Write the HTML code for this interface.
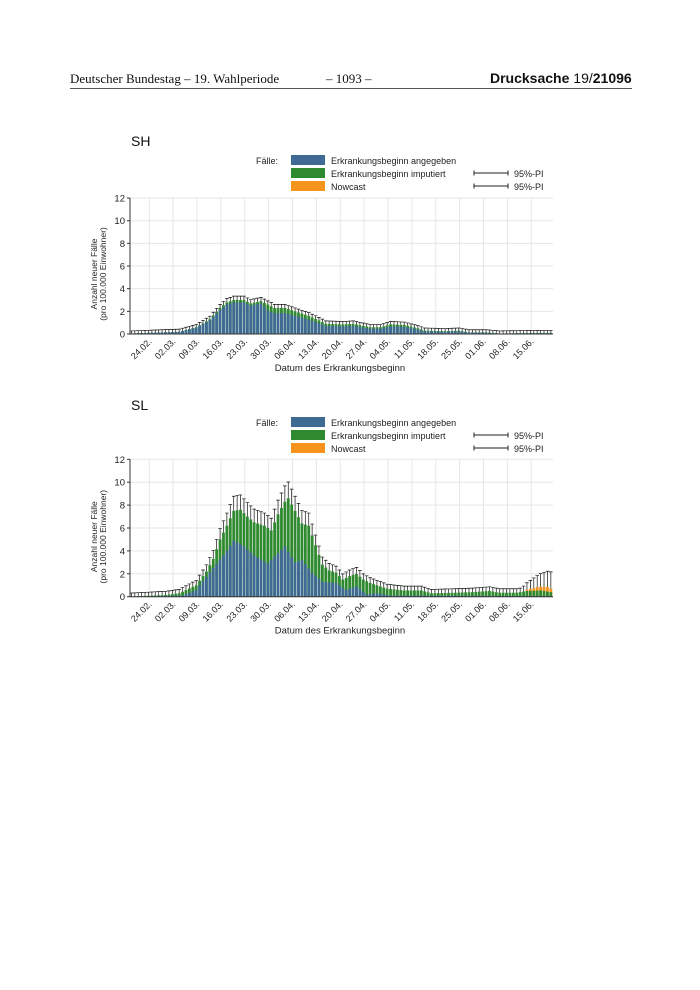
<!DOCTYPE html>
<html><head><meta charset="utf-8"><style>
body{margin:0;background:#fff;}
#w{position:relative;width:700px;height:990px;overflow:hidden;background:#fff;}
.h{position:absolute;top:71px;font-family:"Liberation Serif",serif;font-size:13px;color:#111;white-space:nowrap;}
</style></head><body><div id="w">
<div class="h" style="left:70px">Deutscher Bundestag – 19. Wahlperiode</div>
<div class="h" style="left:326px">– 1093 –</div>
<div class="h" style="left:490px;font-family:'Liberation Sans',sans-serif;font-size:14px;top:70px"><b>Drucksache</b> 19/<b>21096</b></div>
<div style="position:absolute;left:70px;top:88px;width:562px;height:1px;background:#555"></div>
<svg id="s" width="700" height="990" style="position:absolute;left:0;top:0" font-family="Liberation Sans, sans-serif"></svg>
</div>
<script>
var S=document.getElementById('s'),out='';
function interp(p,d){for(var i=0;i<p.length-1;i++){if(d>=p[i][0]&&d<=p[i+1][0]){var t=(d-p[i][0])/(p[i+1][0]-p[i][0]);return p[i][1]+t*(p[i+1][1]-p[i][1]);}}return p[p.length-1][1];}
var x0=130,dpx=3.41,N=124;
var dates=['24.02.','02.03.','09.03.','16.03.','23.03.','30.03.','06.04.','13.04.','20.04.','27.04.','04.05.','11.05.','18.05.','25.05.','01.06.','08.06.','15.06.'];
function chart(y0,ppu,title,ty,leg,tot,blue,orange,errf){
 var ys=function(v){return y0-v*ppu;};
 out+='<text x="131" y="'+ty+'" font-size="14" fill="#111">'+title+'</text>';
 out+='<text x="256" y="'+(leg+4)+'" font-size="9" fill="#222">Fälle:</text>';
 var cols=['#3f6a94','#2f8a2f','#f7941d'],labs=['Erkrankungsbeginn angegeben','Erkrankungsbeginn imputiert','Nowcast'];
 for(var i=0;i<3;i++){var yy=leg+i*13;out+='<rect x="291" y="'+(yy-5)+'" width="34" height="10" fill="'+cols[i]+'"/>';out+='<text x="331" y="'+(yy+4)+'" font-size="9" fill="#222">'+labs[i]+'</text>';}
 for(var i=1;i<3;i++){var yy=leg+i*13;out+='<path d="M474 '+yy+'H508M474 '+(yy-2.5)+'V'+(yy+2.5)+'M508 '+(yy-2.5)+'V'+(yy+2.5)+'" stroke="#222" stroke-width="1"/><text x="514" y="'+(yy+4)+'" font-size="9" fill="#222">95%-PI</text>';}
 for(var v=0;v<=12;v+=2){var y=ys(v);out+='<line x1="130" x2="553" y1="'+y+'" y2="'+y+'" stroke="#e6e6e6" stroke-width="1"/>';out+='<text x="125" y="'+(y+3.5)+'" font-size="9.5" text-anchor="end" fill="#222">'+v+'</text><line x1="127" x2="130" y1="'+y+'" y2="'+y+'" stroke="#333"/>';}
 for(var i=0;i<dates.length;i++){var x=149.3+i*23.87;out+='<line x1="'+x+'" x2="'+x+'" y1="'+ys(12)+'" y2="'+y0+'" stroke="#e6e6e6"/>';
  out+='<text transform="translate('+(x+3)+','+(y0+8)+') rotate(-45)" font-size="9" text-anchor="end" fill="#222">'+dates[i]+'</text>';}
 for(var d=0;d<N;d++){var x=x0+d*dpx,t=interp(tot,d),b=Math.min(interp(blue,d),t),o=orange?interp(orange,d):0;
  out+='<rect x="'+x.toFixed(2)+'" y="'+ys(t+o).toFixed(2)+'" width="'+(dpx-0.6)+'" height="'+((t+o)*ppu).toFixed(2)+'" fill="'+(o>0?'#f7941d':'#2f8a2f')+'"/>';
  if(o>0)out+='<rect x="'+x.toFixed(2)+'" y="'+ys(t).toFixed(2)+'" width="'+(dpx-0.6)+'" height="'+(t*ppu).toFixed(2)+'" fill="#2f8a2f"/>';
  out+='<rect x="'+x.toFixed(2)+'" y="'+ys(b).toFixed(2)+'" width="'+(dpx-0.6)+'" height="'+(b*ppu).toFixed(2)+'" fill="#3f6a94"/>';
  var e=errf(t+o,d),cx=x+dpx/2-0.3;
  out+='<path d="M'+cx.toFixed(2)+' '+ys(t+o).toFixed(2)+'V'+ys(e).toFixed(2)+'M'+(cx-1.8).toFixed(2)+' '+ys(e).toFixed(2)+'H'+(cx+1.8).toFixed(2)+'" stroke="#111" stroke-width="0.7" fill="none"/>';
 }
 out+='<line x1="130" x2="130" y1="'+ys(12)+'" y2="'+y0+'" stroke="#333"/><line x1="130" x2="553" y1="'+y0+'" y2="'+y0+'" stroke="#333"/>';
 out+='<text transform="translate(97,'+(y0-60)+') rotate(-90)" font-size="8.5" text-anchor="middle" fill="#222">Anzahl neuer Fälle</text>';
 out+='<text transform="translate(106,'+(y0-60)+') rotate(-90)" font-size="8.5" text-anchor="middle" fill="#222">(pro 100.000 Einwohner)</text>';
 out+='<text x="340" y="'+(y0+37)+'" font-size="9.5" text-anchor="middle" fill="#222">Datum des Erkrankungsbeginn</text>';
}
var shT=[[0,.05],[14,.2],[19,.6],[23,1.3],[26,2.3],[28,2.8],[30,3.0],[33,3.0],[35,2.7],[38,2.9],[40,2.6],[42,2.3],[45,2.3],[48,2.0],[52,1.6],[55,1.2],[57,.9],[62,.85],[65,.9],[70,.6],[73,.6],[76,.85],[80,.8],[84,.5],[86,.3],[92,.25],[96,.3],[99,.15],[104,.15],[108,.05],[120,.1],[123,.1]];
var shB=shT.map(function(p){return [p[0],p[1]*(p[0]<40?0.93:0.8)];});
chart(334,11.33,'SH',146,160,shT,shB,null,function(t){return t+0.22+t*0.04;});
var slT=[[0,.02],[10,.15],[14,.3],[19,1.0],[22,2.2],[24,3.3],[26,5.0],[28,6.2],[30,7.5],[32,7.6],[34,7.0],[36,6.5],[39,6.2],[41,5.8],[43,7.2],[45,8.3],[46,8.6],[48,7.5],[50,6.4],[52,6.2],[54,4.5],[56,2.8],[58,2.3],[60,2.1],[62,1.5],[64,1.8],[66,2.0],[68,1.5],[70,1.2],[72,1.0],[75,.7],[80,.55],[85,.55],[88,.3],[95,.35],[100,.4],[105,.5],[108,.35],[113,.35],[116,.5],[120,.55],[123,.4]];
var slB=[[0,0],[15,.1],[19,.6],[24,2.5],[28,4.0],[30,4.9],[33,4.4],[36,3.6],[40,2.9],[43,3.8],[45,4.4],[48,3.0],[50,3.2],[53,2.1],[56,1.3],[60,1.2],[63,.6],[66,.9],[69,.2],[72,.3],[76,.1],[123,.05]];
var slO=[[0,0],[115,0],[116,.1],[119,.3],[122,.4],[123,.3]];
chart(596.7,11.45,'SL',410,422,slT,slB,slO,function(t,d){return t+0.3+t*0.13+(d>114?(d-114)*0.12:0);});
S.innerHTML=out;
</script>
</body></html>
